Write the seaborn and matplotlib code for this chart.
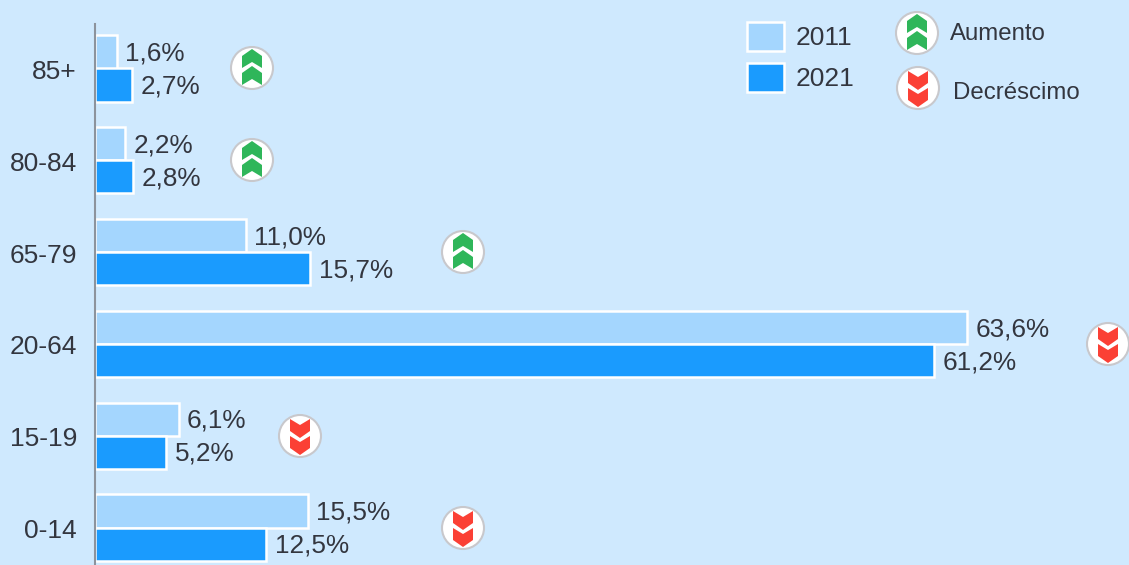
import matplotlib
matplotlib.use("Agg")
import matplotlib.pyplot as plt
from matplotlib.patches import Circle, Polygon
from matplotlib.transforms import ScaledTranslation
import seaborn as sns
import pandas as pd

age_groups = ["85+", "80-84", "65-79", "20-64", "15-19", "0-14"]
values_2011 = [1.6, 2.2, 11.0, 63.6, 6.1, 15.5]
values_2021 = [2.7, 2.8, 15.7, 61.2, 5.2, 12.5]
years = ["2011", "2021"]

BG = "#cfe9fe"
TEXT = "#33363f"
GREEN = "#2fb65a"
RED = "#fb4035"

sns.set_theme(style="white")
plt.rcParams["font.family"] = ["Liberation Sans", "DejaVu Sans"]

df = pd.DataFrame({
    "age": age_groups * 2,
    "year": [years[0]] * 6 + [years[1]] * 6,
    "value": values_2011 + values_2021,
})

W, H = 1129, 565
fig = plt.figure(figsize=(W / 100, H / 100), dpi=100, facecolor=BG)
ax = fig.add_axes([95 / W, 0, 1 - 95 / W, 1], facecolor=BG)

sns.barplot(data=df, y="age", x="value", hue="year", order=age_groups,
            palette=["#a4d6fe", "#1a9bfe"], saturation=1, width=0.72, gap=0,
            edgecolor="white", linewidth=1.8, ax=ax, zorder=2)

# px scale: 13.71 px per %, 91.8 px per category
ax.set_xlim(0, (W - 95) / 13.71)
ax.set_ylim((H - 68.5) / 91.8, -68.5 / 91.8)

for c in ax.containers:
    texts = ax.bar_label(c, labels=[f"{v:.1f}%".replace(".", ",") for v in c.datavalues],
                         padding=6, fontsize=18.8, color=TEXT)
    for t in texts:
        t.xyann = (t.xyann[0], -1.2)  # sits a bit below the bar centre

ax.set(xlabel=None, ylabel=None)
ax.set_xticks([])
ax.tick_params(axis="y", length=0, pad=13, labelsize=19, labelcolor=TEXT)
down = ScaledTranslation(0, -1 / 100, fig.dpi_scale_trans)
for lab in ax.get_yticklabels():
    lab.set_transform(lab.get_transform() + down)
sns.despine(ax=ax, bottom=True)
ax.spines["left"].set_color("#8c939d")
ax.spines["left"].set_linewidth(1.5)
ax.spines["left"].set_zorder(5)
ax.spines["left"].set_bounds((24 - 68.5) / 91.8, (H - 68.5) / 91.8)

sns.move_legend(ax, "upper left", bbox_to_anchor=(739 / W, 1 - 14 / H),
                bbox_transform=fig.transFigure, title=None, frameon=False,
                fontsize=19, labelcolor=TEXT, handlelength=1.42, handleheight=1.29,
                labelspacing=0.47, handletextpad=0.42, borderpad=0.3, borderaxespad=0)

# overlay in pixel coordinates for the trend icons
ov = fig.add_axes([0, 0, 1, 1], facecolor="none")
ov.set_xlim(0, W)
ov.set_ylim(H, 0)
ov.axis("off")


def draw_icon(cx, cy, up):
    color = GREEN if up else RED
    s = 1 if up else -1
    ov.add_patch(Circle((cx, cy), 21, facecolor="white", edgecolor="#c8c8cc", linewidth=1.5))
    for t in (-19, -2):
        ov.add_patch(Polygon([(cx, cy + s * t), (cx + 10, cy + s * (t + 7)),
                              (cx + 10, cy + s * (t + 19)), (cx, cy + s * (t + 13)),
                              (cx - 10, cy + s * (t + 19)), (cx - 10, cy + s * (t + 7))],
                             facecolor=color, edgecolor="none"))


icon_x = [252, 252, 463, 1108, 300, 463]
for i, (a, b) in enumerate(zip(values_2011, values_2021)):
    draw_icon(icon_x[i], 68 + i * 92, b > a)

draw_icon(917, 33, True)
draw_icon(918, 88, False)
ov.text(950, 34, "Aumento", fontsize=17.3, color=TEXT, va="center")
ov.text(953, 93, "Decréscimo", fontsize=17.3, color=TEXT, va="center")

fig.savefig("out.png", dpi=100, facecolor=BG)
